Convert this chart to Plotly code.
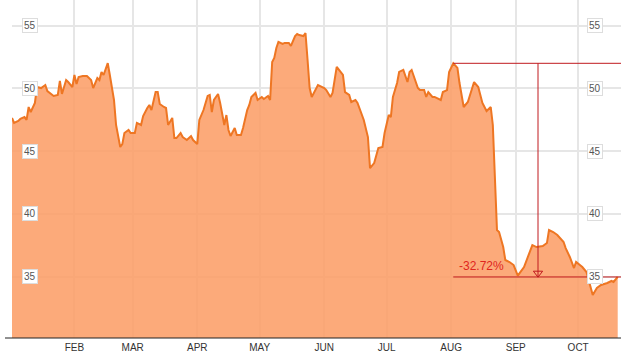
import plotly.graph_objects as go

dates = [
    "2015-01-02","2015-01-03","2015-01-05","2015-01-06","2015-01-08","2015-01-09","2015-01-10","2015-01-11","2015-01-13","2015-01-14","2015-01-16","2015-01-18","2015-01-19","2015-01-20","2015-01-22","2015-01-24","2015-01-25","2015-01-26","2015-01-28","2015-01-29","2015-01-31",
    "2015-02-01","2015-02-02","2015-02-03","2015-02-05","2015-02-07","2015-02-09","2015-02-10","2015-02-12","2015-02-13","2015-02-14","2015-02-15","2015-02-17","2015-02-18","2015-02-20","2015-02-21","2015-02-23","2015-02-24","2015-02-25","2015-02-27","2015-02-28",
    "2015-03-02","2015-03-03","2015-03-05","2015-03-06","2015-03-08","2015-03-09","2015-03-10","2015-03-12","2015-03-13","2015-03-14","2015-03-16","2015-03-17","2015-03-18","2015-03-20","2015-03-21","2015-03-22","2015-03-24","2015-03-25","2015-03-27","2015-03-29","2015-03-30",
    "2015-04-01","2015-04-02","2015-04-04","2015-04-06","2015-04-07","2015-04-08","2015-04-09","2015-04-11","2015-04-12","2015-04-14","2015-04-15","2015-04-16","2015-04-17","2015-04-19","2015-04-20","2015-04-22","2015-04-23","2015-04-25","2015-04-26","2015-04-27","2015-04-29","2015-04-30",
    "2015-05-02","2015-05-03","2015-05-05","2015-05-06","2015-05-07","2015-05-08","2015-05-09","2015-05-10","2015-05-12","2015-05-13","2015-05-15","2015-05-16","2015-05-18","2015-05-19","2015-05-20","2015-05-22","2015-05-23","2015-05-24","2015-05-25","2015-05-26","2015-05-29",
    "2015-06-01","2015-06-02","2015-06-04","2015-06-05","2015-06-07","2015-06-10","2015-06-11","2015-06-13","2015-06-14","2015-06-16","2015-06-17","2015-06-20","2015-06-22","2015-06-23","2015-06-25","2015-06-27","2015-06-29","2015-06-30",
    "2015-07-02","2015-07-03","2015-07-04","2015-07-06","2015-07-07","2015-07-09","2015-07-11","2015-07-12","2015-07-13","2015-07-16","2015-07-17","2015-07-19","2015-07-20","2015-07-21","2015-07-23","2015-07-24","2015-07-27","2015-07-28","2015-07-30","2015-07-31",
    "2015-08-02","2015-08-04","2015-08-05","2015-08-07","2015-08-09","2015-08-11","2015-08-12","2015-08-14","2015-08-16","2015-08-18","2015-08-20","2015-08-21","2015-08-23","2015-08-24","2015-08-26","2015-08-27","2015-08-29","2015-08-31",
    "2015-09-02","2015-09-05","2015-09-07","2015-09-09","2015-09-11","2015-09-14","2015-09-16","2015-09-17","2015-09-19","2015-09-21","2015-09-24","2015-09-25","2015-09-27","2015-09-29","2015-09-30",
    "2015-10-03","2015-10-05","2015-10-07","2015-10-08","2015-10-10","2015-10-12","2015-10-15","2015-10-17","2015-10-18","2015-10-20",
]

prices = [
    47.64,47.24,47.40,47.56,47.71,47.48,48.51,48.11,48.83,50.10,50.02,50.26,49.78,49.63,49.39,49.47,50.58,49.55,50.66,50.50,50.10,
    51.06,50.34,50.90,50.98,50.98,50.66,50.02,50.82,50.66,51.30,51.06,52.01,51.06,49.07,47.08,45.33,45.56,46.44,46.68,46.44,
    46.44,47.24,47.08,47.79,48.43,48.67,48.27,49.70,49.70,48.75,48.51,48.43,47.08,47.64,46.04,46.04,46.44,46.12,45.88,46.20,45.88,
    45.56,47.48,48.27,49.39,49.47,48.11,49.07,49.55,48.83,47.08,47.87,46.68,46.20,46.84,46.28,46.28,46.84,48.27,48.67,49.31,49.63,49.07,
    49.31,49.15,49.39,49.07,52.09,52.41,53.21,53.69,53.53,53.61,53.61,53.37,54.16,54.32,54.24,54.16,54.40,52.25,50.02,49.31,50.26,
    50.02,49.86,49.31,49.63,51.70,51.06,49.70,49.47,48.91,49.07,48.83,47.48,46.12,43.65,44.05,45.25,45.33,46.44,
    47.87,47.71,49.31,50.42,51.30,51.46,50.50,51.30,51.46,50.02,49.86,49.86,49.31,49.70,49.31,49.31,49.07,49.70,49.86,51.30,
    51.99,51.62,50.42,48.51,48.91,49.86,50.50,50.10,48.83,48.19,48.51,47.08,38.72,38.56,37.36,36.33,36.17,35.93,
    35.08,35.77,36.73,37.52,37.36,37.44,37.68,38.72,38.56,38.32,37.76,37.28,36.57,35.69,36.17,
    35.77,35.37,34.18,33.54,34.10,34.34,34.50,34.66,34.58,34.98,
]

month_ticks = ["2015-02-01","2015-03-01","2015-04-01","2015-05-01","2015-06-01",
               "2015-07-01","2015-08-01","2015-09-01","2015-10-01"]
month_labels = ["FEB","MAR","APR","MAY","JUN","JUL","AUG","SEP","OCT"]
y_ticks = [35, 40, 45, 50, 55]

peak_date = "2015-08-02"
peak_value = 51.99
last_value = prices[-1]
change_label = "-32.72%"
measure_date = "2015-09-11 17:00"
label_date = "2015-08-03 19:00"
x_range = ["2015-01-02", "2015-10-21 14:00"]
y_range = [30.12, 57.03]

RED = "#c01a1e"
W, H = 631, 354
ML, MR, MT, MB = 12, 10, 0, 16
PW = W - ML - MR

fig = go.Figure()
fig.add_trace(go.Scatter(
    x=dates, y=prices, mode="lines",
    line=dict(color="#ee7623", width=2),
    fill="tozeroy", fillcolor="rgba(251,157,102,0.87)",
    hoverinfo="skip", showlegend=False,
))
# arrow head of the measuring tool
fig.add_trace(go.Scatter(
    x=[measure_date], y=[last_value + 0.3], mode="markers",
    marker=dict(symbol="triangle-down-open", size=8, color=RED, line=dict(color=RED, width=1)),
    hoverinfo="skip", showlegend=False,
))

shapes = [
    dict(type="line", xref="x", yref="y", x0=peak_date, x1=x_range[1], y0=peak_value, y1=peak_value,
         line=dict(color=RED, width=1)),
    dict(type="line", xref="x", yref="y", x0=peak_date, x1=x_range[1], y0=last_value, y1=last_value,
         line=dict(color=RED, width=1)),
    dict(type="line", xref="x", yref="y", x0=measure_date, x1=measure_date, y0=peak_value, y1=last_value,
         line=dict(color=RED, width=1)),
    dict(type="line", xref="paper", yref="paper", x0=-7 / PW, x1=1, y0=0, y1=0,
         line=dict(color="#222222", width=1)),
]

annotations = [
    dict(x=label_date, y=35.85, xref="x", yref="y", text=change_label, showarrow=False,
         xanchor="left", yanchor="middle", font=dict(size=12, color="#e0261d", family="Arial, Liberation Sans")),
]
for v in y_ticks:
    for px in (17.5 / PW, 582.5 / PW):
        annotations.append(dict(
            x=px, y=v, xref="paper", yref="y", text=str(v), showarrow=False,
            xanchor="center", yanchor="middle",
            font=dict(size=10, color="#555555", family="Arial, Liberation Sans"),
            bgcolor="white", bordercolor="#dddddd", borderwidth=1, borderpad=1,
        ))

fig.update_layout(
    width=W, height=H,
    margin=dict(l=ML, r=MR, t=MT, b=MB),
    paper_bgcolor="white", plot_bgcolor="white",
    shapes=shapes, annotations=annotations,
    xaxis=dict(type="date", range=x_range, tickvals=month_ticks, ticktext=month_labels,
               showgrid=True, gridcolor="#e6e6e6", gridwidth=2, zeroline=False, showline=False,
               ticks="", ticklabelstandoff=2,
               tickfont=dict(size=10, color="#333333", family="Arial, Liberation Sans")),
    yaxis=dict(range=y_range, tickvals=y_ticks, showticklabels=False,
               showgrid=True, gridcolor="#e6e6e6", gridwidth=2, zeroline=False, showline=False, ticks=""),
)

fig.write_html("out.html")
